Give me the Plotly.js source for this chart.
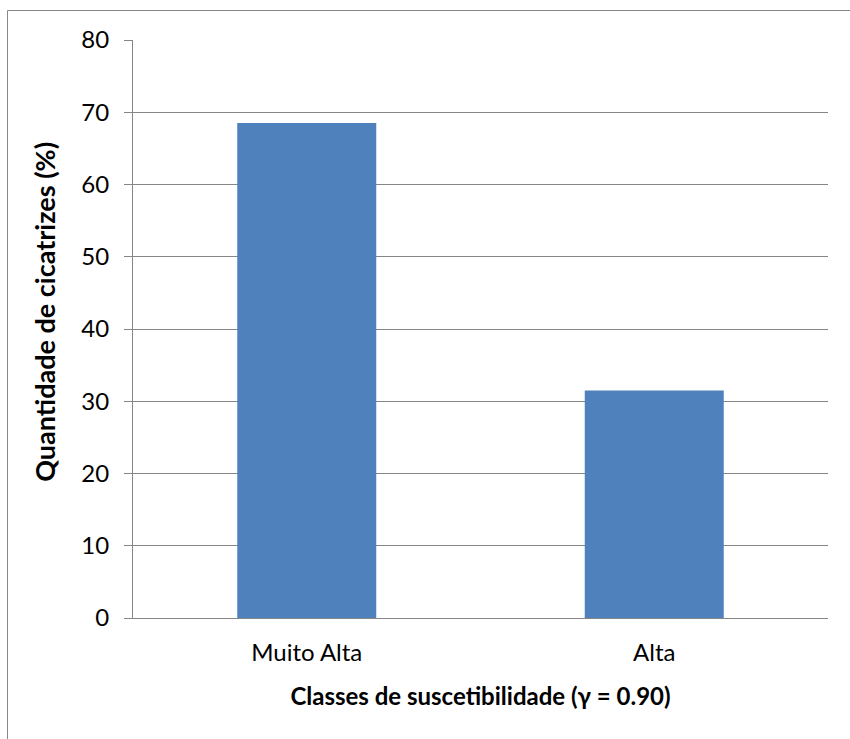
<!DOCTYPE html>
<html>
<head>
<meta charset="utf-8">
<script src="https://cdn.plot.ly/plotly-3.0.1.min.js"></script>
<style>
  html, body { margin: 0; padding: 0; background: #fff; }
  #chart { width: 850px; height: 739px; }
</style>
</head>
<body>
<div id="chart"></div>
<script>
const categories = ["Muito Alta", "Alta"];
const values = [68.5, 31.5];
const yTickValues = [0, 10, 20, 30, 40, 50, 60, 70, 80];
const xTitle = "Classes de suscetibilidade (γ = 0.90)";
const yTitle = "Quantidade de cicatrizes (%)";

const fontFamily = "Lato, 'Open Sans', sans-serif";
const gridColor = "#868686";

const trace = {
  type: "bar",
  x: categories,
  y: values,
  marker: { color: "#4F81BD", line: { width: 0 } },
  width: 0.4,
  hoverinfo: "skip"
};

const layout = {
  width: 850,
  height: 739,
  margin: { l: 133, r: 22, t: 40, b: 121 },
  paper_bgcolor: "#ffffff",
  plot_bgcolor: "#ffffff",
  showlegend: false,
  font: { family: fontFamily, size: 24, color: "#000000" },
  xaxis: {
    type: "category",
    showgrid: false,
    showline: true,
    linecolor: gridColor,
    linewidth: 1,
    ticks: "",
    ticklabelstandoff: 13,
    tickfont: { family: fontFamily, size: 24, color: "#000" },
    title: {
      text: xTitle,
      font: { family: fontFamily, size: 24, color: "#000", weight: "bold" },
      standoff: 23
    },
    fixedrange: true
  },
  yaxis: {
    range: [0, 80],
    tickvals: yTickValues,
    ticktext: yTickValues.map(String),
    showgrid: true,
    gridcolor: gridColor,
    gridwidth: 1,
    zeroline: false,
    showline: true,
    linecolor: gridColor,
    linewidth: 1,
    ticks: "outside",
    ticklen: 8,
    tickcolor: gridColor,
    ticklabelstandoff: 10,
    tickfont: { family: fontFamily, size: 24, color: "#000" },
    fixedrange: true
  },
  annotations: [
    {
      text: yTitle,
      xref: "paper", yref: "paper",
      x: (45 - 133) / 695,
      y: (618.3 - 312) / 578.3,
      xanchor: "center", yanchor: "middle",
      textangle: -90,
      showarrow: false,
      font: { family: fontFamily, size: 27, color: "#000", weight: "bold" }
    }
  ],
  shapes: [
    {
      type: "rect",
      xref: "paper", yref: "paper",
      x0: (7.5 - 133) / 695, x1: (870 - 133) / 695,
      y0: (618.3 - 760) / 578.3, y1: (618.3 - 10.5) / 578.3,
      line: { color: "#888888", width: 1 },
      fillcolor: "rgba(0,0,0,0)",
      layer: "below"
    }
  ]
};

Plotly.newPlot("chart", [trace], layout, { displayModeBar: false, staticPlot: true });
</script>
</body>
</html>
